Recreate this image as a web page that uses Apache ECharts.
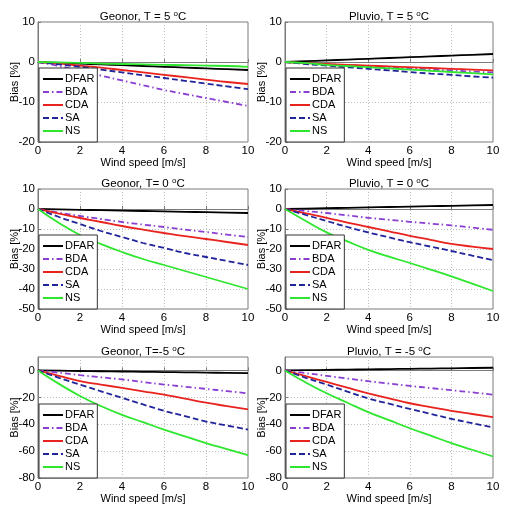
<!DOCTYPE html>
<html>
<head>
<meta charset="utf-8">
<script src="https://cdn.jsdelivr.net/npm/echarts@6/dist/echarts.min.js"></script>
<style>html,body{margin:0;padding:0;background:#fff}#c{width:510px;height:513px}</style>
</head>
<body>
<div id="c"></div>
<script>
// ---- data ----
const windSpeed = [0,1,2,3,4,5,6,7,8,9,10];
const seriesNames = ['DFAR','BDA','CDA','SA','NS'];
const xTicks = [0,2,4,6,8,10];

const panelTitles = ['Geonor, T = 5 ', 'Pluvio, T = 5 ', 'Geonor, T= 0 ', 'Pluvio, T = 0 ', 'Geonor, T=-5 ', 'Pluvio, T = -5 '];
const yMin = [-20,-20,-50,-50,-80,-80];
const yMax = [10,10,10,10,10,10];
const yStep = [10,10,10,10,20,20];

// Geonor, T = 5
const g5DFAR = [0,-0.2,-0.4,-0.6,-0.8,-1,-1.2,-1.4,-1.6,-1.8,-2];
const g5BDA  = [0,-1,-2.2,-3.4,-4.6,-5.8,-7,-8,-9,-10,-11];
const g5CDA  = [0,-0.4,-0.9,-1.4,-2,-2.6,-3.2,-3.8,-4.4,-5,-5.5];
const g5SA   = [0,-0.6,-1.2,-1.9,-2.6,-3.3,-4,-4.7,-5.4,-6.1,-6.8];
const g5NS   = [0,-0.1,-0.2,-0.4,-0.5,-0.6,-0.7,-0.8,-0.9,-1.0,-1.2];
// Pluvio, T = 5
const p5DFAR = [0,0.2,0.4,0.6,0.8,1,1.2,1.4,1.6,1.8,2];
const p5BDA  = [0,-0.3,-0.6,-0.8,-1.1,-1.4,-1.6,-1.9,-2.1,-2.4,-2.6];
const p5CDA  = [0,-0.3,-0.5,-0.7,-0.9,-1.1,-1.3,-1.5,-1.7,-1.9,-2.1];
const p5SA   = [0,-0.5,-0.9,-1.3,-1.7,-2.1,-2.5,-2.9,-3.2,-3.6,-3.9];
const p5NS   = [0,-0.3,-0.7,-1,-1.3,-1.6,-1.9,-2.2,-2.5,-2.8,-3.1];
// Geonor, T = 0
const g0DFAR = [0,-0.2,-0.4,-0.6,-0.8,-1,-1.2,-1.4,-1.6,-1.8,-2];
const g0BDA  = [0,-1.8,-3.5,-5,-6.5,-7.8,-9,-10.3,-11.5,-12.8,-14];
const g0CDA  = [0,-2.3,-4.5,-6.5,-8.5,-10.3,-12,-13.6,-15,-16.5,-18];
const g0SA   = [0,-4,-7.5,-11,-14,-17,-19.5,-22,-24,-26,-28];
const g0NS   = [0,-7,-13,-17.5,-21.5,-25,-28,-31,-34,-37,-40];
// Pluvio, T = 0
const p0DFAR = [0,0.2,0.4,0.6,0.8,1,1.2,1.4,1.6,1.8,2];
const p0BDA  = [0,-1,-2,-3.2,-4.4,-5.4,-6.4,-7.3,-8.2,-9.3,-10.4];
const p0CDA  = [0,-2.2,-4.4,-6.8,-9,-11.2,-13.4,-15.4,-17.4,-18.8,-20];
const p0SA   = [0,-3,-6,-9,-11.7,-14.2,-16.6,-18.8,-21,-23.3,-25.6];
const p0NS   = [0,-6,-11.7,-16.2,-20.4,-23.8,-27,-30.3,-33.7,-37.3,-41];
// Geonor, T = -5
const gm5DFAR = [0,-0.2,-0.4,-0.6,-0.8,-1,-1.2,-1.4,-1.6,-1.8,-2];
const gm5BDA  = [0,-1.7,-3.5,-5.1,-6.7,-8.6,-10.5,-12.1,-13.7,-15.4,-17];
const gm5CDA  = [0,-4,-8,-10.5,-13,-15.5,-18,-21,-24,-26.5,-29];
const gm5SA   = [0,-5.5,-10.5,-15.5,-20.4,-25.3,-30,-34,-38,-41,-44];
const gm5NS   = [0,-10,-19,-26.5,-33,-38.5,-44,-49,-54,-58.5,-63];
// Pluvio, T = -5
const pm5DFAR = [0,0.2,0.4,0.6,0.8,1,1.2,1.4,1.6,1.8,2];
const pm5BDA  = [0,-2,-4,-6,-8,-9.8,-11.5,-13.1,-14.7,-16.3,-18];
const pm5CDA  = [0,-4.3,-8.5,-12.8,-17,-20.7,-24.4,-27.2,-30,-32.4,-34.7];
const pm5SA   = [0,-5.5,-10.5,-15.7,-20.8,-24.7,-28.6,-32.3,-36,-39.2,-42.3];
const pm5NS   = [0,-9,-17,-24,-31,-37,-43,-48.5,-54,-59,-64];

const panelData = [
  [g5DFAR,g5BDA,g5CDA,g5SA,g5NS],
  [p5DFAR,p5BDA,p5CDA,p5SA,p5NS],
  [g0DFAR,g0BDA,g0CDA,g0SA,g0NS],
  [p0DFAR,p0BDA,p0CDA,p0SA,p0NS],
  [gm5DFAR,gm5BDA,gm5CDA,gm5SA,gm5NS],
  [pm5DFAR,pm5BDA,pm5CDA,pm5SA,pm5NS]
];

// ---- styles ----
const FONT = "'Liberation Sans',Arial,sans-serif";
const lineColors = ['#000000','#8a3fd0','#e8231e','#22249a','#2ee62e'];
const lineTypes = ['solid',[6,3,1.5,3],'solid',[6,3],'solid'];
const gridLeft = [38, 285];
const gridWidth = [210, 208];
const gridTop = [22, 189, 357];
const gridHeight = [120, 120, 121];
const H = 513;

const grids = [], xAxes = [], yAxes = [], titles = [], legends = [], series = [];
for (let i = 0; i < 6; i++) {
  const r = Math.floor(i/2), c = i % 2;
  grids.push({left: gridLeft[c], top: gridTop[r], width: gridWidth[c], height: gridHeight[r],
    show: true, borderColor: '#7a7a7a', borderWidth: 1, backgroundColor: '#fff'});
  xAxes.push({gridIndex: i, type: 'value', min: xTicks[0], max: xTicks[xTicks.length-1], interval: 2,
    name: 'Wind speed [m/s]', nameLocation: 'middle', nameGap: 14,
    nameTextStyle: {fontFamily: FONT, fontSize: 11, color: '#000'},
    axisLine: {show: true, lineStyle: {color: '#7a7a7a'}},
    axisTick: {show: true, inside: true, length: 3, lineStyle: {color: '#7a7a7a'}},
    axisLabel: {margin: 3, fontFamily: FONT, fontSize: 11.5, color: '#000'},
    splitLine: {show: true, lineStyle: {color: '#bdbdbd', type: [1,2]}}});
  yAxes.push({gridIndex: i, type: 'value', min: yMin[i], max: yMax[i], interval: yStep[i],
    name: 'Bias [%]', nameLocation: 'middle', nameGap: 18, nameMoveOverlap: false,
    nameTextStyle: {fontFamily: FONT, fontSize: 11, color: '#000'},
    axisLine: {show: true, lineStyle: {color: '#7a7a7a'}},
    axisTick: {show: true, inside: true, length: 3, lineStyle: {color: '#7a7a7a'}},
    axisLabel: {margin: 3, fontFamily: FONT, fontSize: 11.5, color: '#000', showMaxLabel: yStep[i] === 10},
    splitLine: {show: true, lineStyle: {color: '#bdbdbd', type: [1,2]}}});
  titles.push({text: panelTitles[i] + '{s|o}C', left: gridLeft[c] + gridWidth[c]/2, top: gridTop[r] - 12,
    textAlign: 'center', padding: 0,
    textStyle: {fontFamily: FONT, fontSize: 11.5, fontWeight: 'normal', color: '#000', lineHeight: 13,
      rich: {s: {fontFamily: FONT, fontSize: 8, lineHeight: 13, verticalAlign: 'top', padding: [0,0,6,0], color: '#000'}}}});
  legends.push({data: seriesNames, orient: 'vertical', left: gridLeft[c] + 1, bottom: H - gridTop[r] - gridHeight[r],
    backgroundColor: '#fff', borderColor: '#333', borderWidth: 1, padding: [5, 3, 5, 3],
    itemWidth: 20, itemHeight: 8, itemGap: 1, selectedMode: false,
    itemStyle: {opacity: 0},
    textStyle: {fontFamily: FONT, fontSize: 11, color: '#000', lineHeight: 12, padding: [0,0,0,-3]}});
  seriesNames.forEach((nm, k) => {
    series.push({name: nm, type: 'line', xAxisIndex: i, yAxisIndex: i, symbol: 'none', smooth: true,
      animation: false,
      data: windSpeed.map((x, j) => [x, panelData[i][k][j]]),
      lineStyle: {color: lineColors[k], width: 1.8, type: lineTypes[k]},
      itemStyle: {color: lineColors[k]}});
  });
}

const chart = echarts.init(document.getElementById('c'), null, {renderer: 'canvas'});
chart.setOption({backgroundColor: '#fff', animation: false, grid: grids, xAxis: xAxes, yAxis: yAxes,
  title: titles, legend: legends, series: series});
</script>
</body>
</html>
